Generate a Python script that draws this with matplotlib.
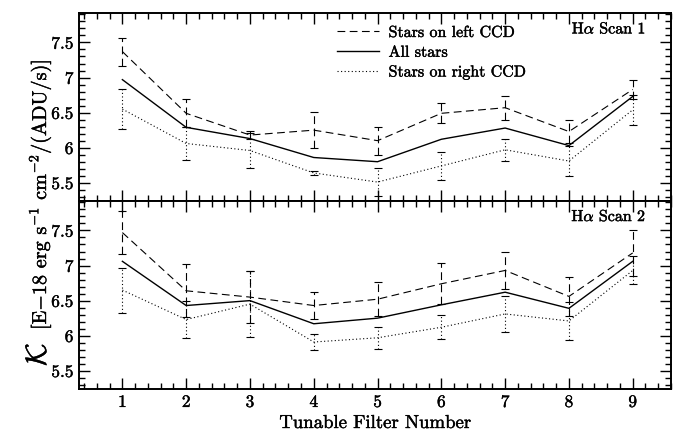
import matplotlib
matplotlib.use("Agg")
import matplotlib.pyplot as plt
import matplotlib.patheffects as pe
from matplotlib.ticker import MultipleLocator, FuncFormatter
from matplotlib.lines import Line2D

plt.rcParams['font.family'] = ['cmr10', 'DejaVu Serif']
plt.rcParams['mathtext.fontset'] = 'cm'
plt.rcParams['axes.unicode_minus'] = False
plt.rcParams['axes.formatter.use_mathtext'] = True

filters = [1, 2, 3, 4, 5, 6, 7, 8, 9]

# Scan 1
s1_left = [7.37, 6.49, 6.18, 6.25, 6.10, 6.49, 6.57, 6.23, 6.83]
s1_left_err = [0.20, 0.20, 0.06, 0.26, 0.20, 0.14, 0.17, 0.16, 0.13]
s1_all = [6.97, 6.29, 6.13, 5.86, 5.80, 6.12, 6.28, 6.03, 6.73]
s1_right = [6.55, 6.06, 5.96, 5.64, 5.51, 5.74, 5.97, 5.81, 6.54]
s1_right_err = [0.29, 0.24, 0.25, 0.03, 0.20, 0.20, 0.16, 0.22, 0.21]

# Scan 2
s2_left = [7.47, 6.64, 6.55, 6.43, 6.52, 6.74, 6.93, 6.56, 7.18]
s2_left_err = [0.31, 0.38, 0.37, 0.19, 0.24, 0.29, 0.27, 0.28, 0.33]
s2_all = [7.06, 6.43, 6.50, 6.17, 6.25, 6.44, 6.62, 6.39, 7.06]
s2_right = [6.65, 6.23, 6.45, 5.91, 5.97, 6.12, 6.31, 6.21, 6.93]
s2_right_err = [0.32, 0.27, 0.47, 0.11, 0.16, 0.17, 0.26, 0.27, 0.20]

legend_labels = ["Stars on left CCD", "All stars", "Stars on right CCD"]
panel_titles = [r"H$\alpha$ Scan 1", r"H$\alpha$ Scan 2"]

W, H = 673, 434
fig = plt.figure(figsize=(W / 100, H / 100), dpi=100)
left_px, right_px = 79, 671
top_px, mid_px, bot_px = 13, 201, 389
ax1 = fig.add_axes([left_px / W, 1 - mid_px / H, (right_px - left_px) / W, (mid_px - top_px) / H])
ax2 = fig.add_axes([left_px / W, 1 - bot_px / H, (right_px - left_px) / W, (bot_px - mid_px) / H])

bold = [pe.withStroke(linewidth=0.3, foreground='black')]

lw = 0.8
dash = (7, 4)
dot = (1, 2.2)

def draw(ax, left, left_err, allv, right, right_err):
    eb = ax.errorbar(filters, left, yerr=left_err, color='black', lw=lw, capsize=3,
                     elinewidth=lw, capthick=lw, dashes=dash)
    eb[2][0].set_linestyle((0, dash))
    ax.plot(filters, allv, color='black', lw=lw + 0.2, linestyle='-')
    eb2 = ax.errorbar(filters, right, yerr=right_err, color='black', lw=lw, capsize=3,
                      elinewidth=lw, capthick=lw, dashes=dot)
    eb2[2][0].set_linestyle((0, dot))
    ax.set_xlim(0.32, 9.6)
    ax.set_ylim(5.24, 7.92)
    ax.xaxis.set_major_locator(MultipleLocator(1))
    ax.xaxis.set_minor_locator(MultipleLocator(0.2))
    ax.yaxis.set_major_locator(MultipleLocator(0.5))
    ax.yaxis.set_minor_locator(MultipleLocator(0.1))
    ax.tick_params(which='both', direction='in', top=True, right=True, width=1.0)
    ax.tick_params(which='major', length=8, labelsize=12.5, pad=4)
    ax.tick_params(which='minor', length=4)
    for sp in ax.spines.values():
        sp.set_linewidth(1.4)
    ax.yaxis.set_major_formatter(FuncFormatter(lambda v, p: '%g' % v))

draw(ax1, s1_left, s1_left_err, s1_all, s1_right, s1_right_err)
draw(ax2, s2_left, s2_left_err, s2_all, s2_right, s2_right_err)
ax1.tick_params(labelbottom=False)
ax2.xaxis.set_major_formatter(FuncFormatter(lambda v, p: '%d' % v))
ax2.set_xlabel("Tunable Filter Number", fontsize=13.5, labelpad=3, path_effects=bold)

handles = [Line2D([], [], color='black', lw=lw, dashes=dash),
           Line2D([], [], color='black', lw=lw + 0.2),
           Line2D([], [], color='black', lw=lw, dashes=dot)]
leg = ax1.legend(handles, legend_labels, loc='upper left', bbox_to_anchor=(0.415, 1.0),
                 frameon=False, fontsize=11.5, handlelength=2.6, handletextpad=0.6,
                 labelspacing=0.35, borderaxespad=0.4)
for t in leg.get_texts():
    t.set_path_effects(bold)

ax1.text(0.958, 0.915, panel_titles[0], transform=ax1.transAxes, ha='right', va='center',
         fontsize=11.5, path_effects=bold)
ax2.text(0.958, 0.917, panel_titles[1], transform=ax2.transAxes, ha='right', va='center',
         fontsize=11.5, path_effects=bold)

# y label: large calligraphic K followed by units
fig.text(46 / W, 1 - 366 / H, r"$\mathcal{K}$", rotation=90, rotation_mode='anchor',
         ha='left', va='baseline', fontsize=21, path_effects=bold)
fig.text(46 / W, 1 - 330 / H, r"[E$-$18 erg s$^{-1}$ cm$^{-2}$/(ADU/s)]", rotation=90,
         rotation_mode='anchor', ha='left', va='baseline', fontsize=14.5, path_effects=bold)

fig.canvas.draw()
for ax in (ax1, ax2):
    for lab in ax.get_xticklabels() + ax.get_yticklabels():
        lab.set_path_effects(bold)

fig.savefig("out.png", dpi=100)
